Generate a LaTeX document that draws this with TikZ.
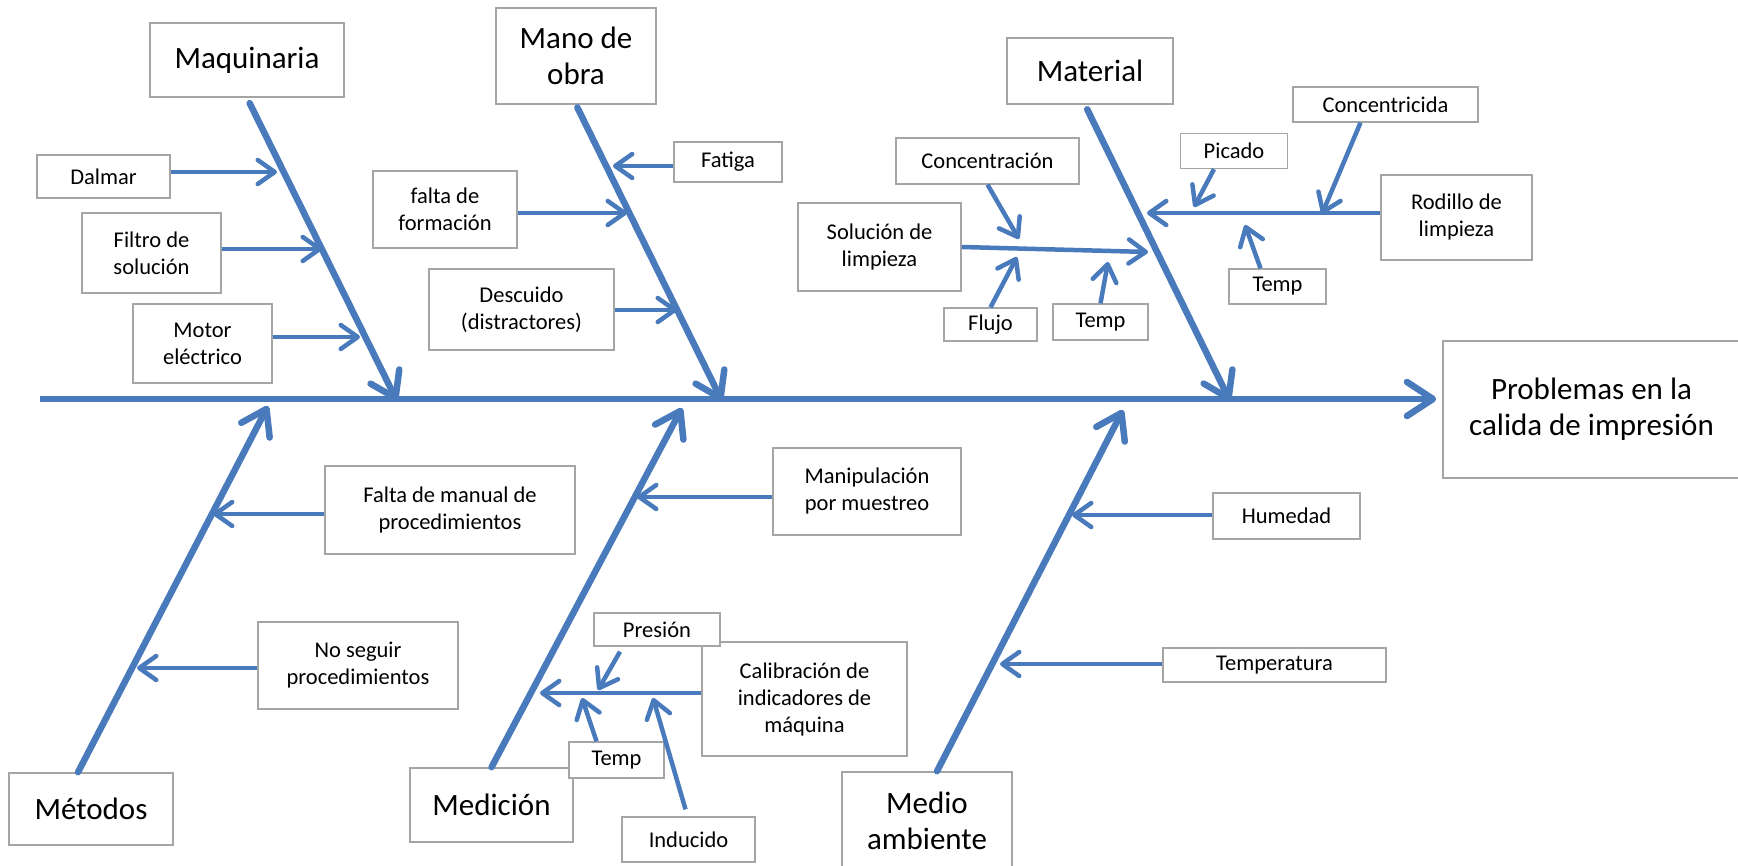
\documentclass[tikz,border=0pt]{standalone}
\usepackage{fontspec}
\setmainfont{Carlito}
\usetikzlibrary{arrows.meta}
\definecolor{bone}{RGB}{72,122,188}
\definecolor{boxline}{RGB}{165,165,165}
\tikzset{
  bigbox/.style={draw=boxline, line width=1.6pt, fill=white, align=center, inner sep=0pt,
    font=\fontsize{31}{36}\selectfont},
  smallbox/.style={draw=boxline, line width=1.3pt, fill=white, align=center, inner sep=0pt,
    font=\fontsize{22.5}{27}\selectfont},
  sz/.style 2 args={minimum width=#1pt, minimum height=#2pt},
  bonearrow/.style={draw=bone, line width=6.5pt, line cap=round,
    -{Straight Barb[round,length=24pt,width=32pt]}},
  spinearrow/.style={draw=bone, line width=6.5pt,
    -{Straight Barb[round,length=26pt,width=34pt]}},
  subarrow/.style={draw=bone, line width=4.5pt,
    -{Straight Barb[round,length=17pt,width=24pt]}},
}
\begin{document}
\begin{tikzpicture}[x=1pt,y=-1pt]
\useasboundingbox (0,0) rectangle (1738,866);

% ---- main boxes
\node[bigbox, sz={194}{74}] (maq) at (247,60) {Maquinaria};
\node[bigbox, sz={160}{96}] (mano) at (576,56) {Mano de\\obra};
\node[bigbox, sz={166}{66}] (mat) at (1090,71) {Material};
\node[bigbox, sz={297}{137}] (prob) at (1591.5,409.5) {Problemas en la\\calida de impresión};
\node[bigbox, sz={164}{72}] (met) at (91,809) {Métodos};
\node[bigbox, sz={163}{74}] (medi) at (491.5,805) {Medición};
\node[bigbox, sz={170}{98}] (ma) at (927,821) {Medio\\ambiente};

% ---- small boxes
\node[smallbox, sz={133}{43}] (dal) at (103.5,176.5) {Dalmar};
\node[smallbox, sz={139}{80}] (fil) at (151.5,253) {Filtro de\\solución};
\node[smallbox, sz={139}{79}] (mot) at (202.5,343.5) {Motor\\eléctrico};
\node[smallbox, sz={144}{77}] (fal) at (445,209.5) {falta de\\formación};
\node[smallbox, sz={108}{40}] (fat) at (728,162) {Fatiga};
\node[smallbox, sz={185}{81}] (des) at (521.5,309.5) {Descuido\\(distractores)};
\node[smallbox, sz={183}{46}] (conc) at (987.5,161) {Concentración};
\node[smallbox, sz={163}{88}] (sol) at (879.5,247) {Solución de\\limpieza};
\node[smallbox, sz={93}{33}] (flu) at (990.5,324.5) {Flujo};
\node[smallbox, sz={95}{36}] (tma) at (1100.5,322) {Temp};
\node[smallbox, sz={107}{35}] (pic) at (1234,151) {Picado};
\node[smallbox, sz={185}{35}] (cc) at (1385.5,104.5) {Concentricida};
\node[smallbox, sz={151}{85}] (rod) at (1456.5,217.5) {Rodillo de\\limpieza};
\node[smallbox, sz={97}{35}] (tmb) at (1277.5,286.5) {Temp};
\node[smallbox, sz={250}{88}] (fm) at (450,510) {Falta de manual de\\procedimientos};
\node[smallbox, sz={200}{87}] (ns) at (358,665.5) {No seguir\\procedimientos};
\node[smallbox, sz={188}{87}] (mp) at (867,491.5) {Manipulación\\por muestreo};
\node[smallbox, sz={205}{114}] (cal) at (804.5,699) {Calibración de\\indicadores de\\máquina};
\node[smallbox, sz={126}{33}] (pre) at (657,629.5) {Presión};
\node[smallbox, sz={95}{36}] (tmc) at (616.5,760) {Temp};
\node[smallbox, sz={133}{45}] (ind) at (688.5,839.5) {Inducido};
\node[smallbox, sz={147}{46}] (hu) at (1286.5,516) {Humedad};
\node[smallbox, sz={223}{34}] (te) at (1274.5,665) {Temperatura};

% ---- arrow tip coordinates
\coordinate (spL) at (40,399);
\coordinate (tMaq) at (397,401);
\coordinate (tMano) at (722,401);
\coordinate (tMat) at (1230,401);
\coordinate (tMet) at (268,406);
\coordinate (tMedi) at (682,408);
\coordinate (tMA) at (1123,410);
\coordinate (tDal) at (277,172);
\coordinate (tFil) at (322,249);
\coordinate (tMot) at (360,337);
\coordinate (tFal) at (627,213);
\coordinate (tFat) at (613,166);
\coordinate (tDes) at (677,310);
\coordinate (tSol) at (1148,252);
\coordinate (tConc) at (1019,239);
\coordinate (tFlu) at (1017,257);
\coordinate (tTa) at (1108,262);
\coordinate (tRod) at (1147,213);
\coordinate (tPic) at (1194,207);
\coordinate (tCC) at (1322,214);
\coordinate (tTb) at (1245,225);
\coordinate (tFm) at (213,514);
\coordinate (tNs) at (137,668);
\coordinate (tMp) at (637,497);
\coordinate (tCal) at (540,693);
\coordinate (tPre) at (598,690);
\coordinate (tTc) at (582,698);
\coordinate (tInd) at (653,698);
\coordinate (tHu) at (1072,515);
\coordinate (tTe) at (1000,664);

% ---- spine and bones
\draw[spinearrow, shorten >=6pt] (spL) -- (spL -| prob.west);
\draw[bonearrow, shorten <=6pt] (maq.south) -- (tMaq);
\draw[bonearrow, shorten <=3pt] (mano.south) -- (tMano);
\draw[bonearrow, shorten <=5pt] ([xshift=-5pt]mat.south) -- (tMat);
\draw[bonearrow] ([xshift=-13pt]met.north) -- (tMet);
\draw[bonearrow] (medi.north) -- (tMedi);
\draw[bonearrow] ([xshift=10pt]ma.north) -- (tMA);

% ---- sub-cause arrows
\draw[subarrow] (dal.east |- tDal) -- (tDal);
\draw[subarrow] (fil.east |- tFil) -- (tFil);
\draw[subarrow] (mot.east |- tMot) -- (tMot);
\draw[subarrow] (fal.east |- tFal) -- (tFal);
\draw[subarrow] (fat.west |- tFat) -- (tFat);
\draw[subarrow] (des.east |- tDes) -- (tDes);
\draw[subarrow] (sol.east) -- (tSol);
\draw[subarrow] (conc.south) -- (tConc);
\draw[subarrow] (flu.north) -- (tFlu);
\draw[subarrow] (tma.north) -- (tTa);
\draw[subarrow] (rod.west |- tRod) -- (tRod);
\draw[subarrow] ([xshift=-20pt]pic.south) -- (tPic);
\draw[subarrow] ([xshift=-25pt]cc.south) -- (tCC);
\draw[subarrow] ([xshift=-17pt]tmb.north) -- (tTb);
\draw[subarrow] (fm.west |- tFm) -- (tFm);
\draw[subarrow] (ns.west |- tNs) -- (tNs);
\draw[subarrow] (mp.west |- tMp) -- (tMp);
\draw[subarrow] (cal.west |- tCal) -- (tCal);
\draw[subarrow] ([xshift=-37pt,yshift=-5pt]pre.south) -- (tPre);
\draw[subarrow] ([xshift=-20pt]tmc.north) -- (tTc);
\draw[subarrow] ([xshift=-3pt,yshift=7pt]ind.north) -- (tInd);
\draw[subarrow] (hu.west |- tHu) -- (tHu);
\draw[subarrow] (te.west |- tTe) -- (tTe);
\end{tikzpicture}
\end{document}
